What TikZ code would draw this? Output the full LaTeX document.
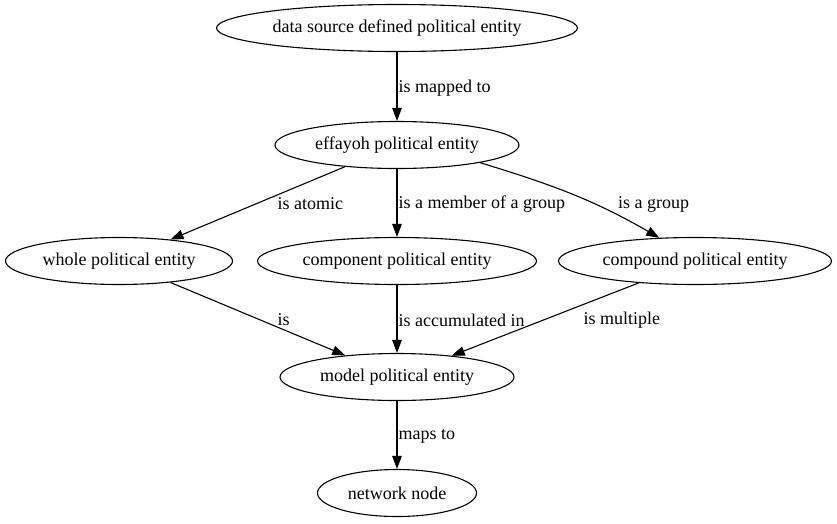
\documentclass[tikz,border=0pt]{standalone}
\usepackage{fontspec}
\setmainfont{Liberation Serif}
\usetikzlibrary{shapes.geometric,arrows.meta}
\tikzstyle{entity}=[ellipse,draw,line width=1.1pt,minimum height=47pt,inner sep=0pt,font=\fontsize{18}{21}\selectfont]
\tikzstyle{rel}=[-{Triangle[length=13pt,width=9.5pt]},line width=1.1pt]
\tikzstyle{lbl}=[anchor=west,inner sep=0pt,font=\fontsize{18}{21}\selectfont]

\begin{document}
\begin{tikzpicture}[x=1pt,y=-1pt]
  \useasboundingbox (0,0) rectangle (837,523);

  \node[entity,minimum width=361pt] (DS) at (397,28) {data source defined political entity};
  \node[entity,minimum width=244pt] (E) at (397,145) {effayoh political entity};
  \node[entity,minimum width=227pt] (W) at (119,261) {whole political entity};
  \node[entity,minimum width=279pt] (CP) at (397,261) {component political entity};
  \node[entity,minimum width=273pt] (CD) at (695,261) {compound political entity};
  \node[entity,minimum width=234pt] (M) at (397,377) {model political entity};
  \node[entity,minimum width=159pt] (N) at (397,493) {network node};

  \draw[rel] (DS)--(E) node[lbl] at (398,88) {is mapped to};
  \draw[rel] (E)--(W) node[lbl] at (277,204) {is atomic};
  \draw[rel] (E)--(CP) node[lbl] at (398,204) {is a member of a group};
  \draw[rel] (E.-12) to[out=-17,in=150] (CD.147);
  \node[lbl] (g) at (618,204) {is a group};
  \draw[rel] (W)--(M) node[lbl] at (277,320) {is};
  \draw[rel] (CP)--(M) node[lbl] at (398,320) {is accumulated in};
  \draw[rel] (CD)--(M) node[lbl] at (583,320) {is multiple};
  \draw[rel] (M)--(N) node[lbl] at (398,436) {maps to};

\end{tikzpicture}
\end{document}
